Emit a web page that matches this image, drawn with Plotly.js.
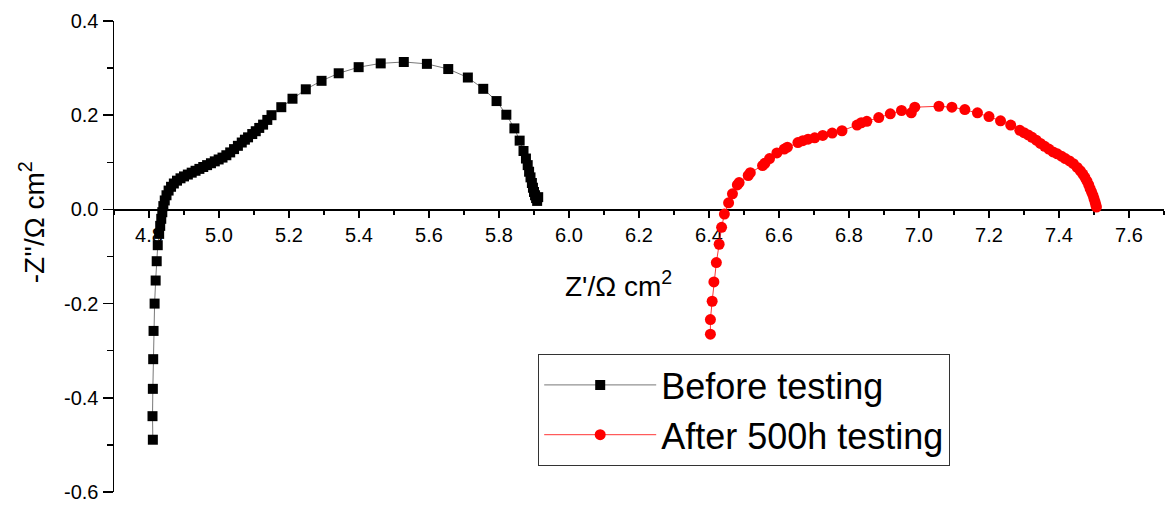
<!DOCTYPE html>
<html>
<head>
<meta charset="utf-8">
<script src="https://cdn.plot.ly/plotly-3.0.1.min.js"></script>
<style>html,body{margin:0;padding:0;background:#fff;}#chart{width:1172px;height:512px;}</style>
</head>
<body>
<div id="chart"></div>
<script>
const seriesNames = ["Before testing", "After 500h testing"];

const xBefore = [4.811,4.810,4.811,4.812,4.813,4.816,4.819,4.822,4.825,4.829,4.832,4.835,4.838,4.841,4.845,4.850,4.856,4.863,4.871,4.880,4.890,4.900,4.911,4.922,4.933,4.944,4.955,4.966,4.977,4.988,4.999,5.010,5.021,5.032,5.043,5.054,5.065,5.074,5.083,5.095,5.105,5.115,5.126,5.138,5.150,5.178,5.210,5.248,5.293,5.342,5.399,5.462,5.528,5.594,5.655,5.711,5.755,5.793,5.821,5.844,5.859,5.870,5.877,5.882,5.886,5.890,5.894,5.897,5.900,5.903,5.906,5.909,5.912];
const yBefore = [-0.489,-0.439,-0.381,-0.318,-0.258,-0.200,-0.151,-0.110,-0.076,-0.052,-0.035,-0.020,-0.006,0.007,0.019,0.030,0.040,0.048,0.055,0.061,0.066,0.070,0.074,0.078,0.082,0.086,0.090,0.094,0.098,0.102,0.106,0.110,0.115,0.121,0.128,0.135,0.142,0.148,0.153,0.160,0.166,0.173,0.180,0.190,0.200,0.217,0.235,0.255,0.273,0.289,0.302,0.310,0.313,0.309,0.298,0.280,0.256,0.230,0.201,0.172,0.146,0.124,0.108,0.094,0.080,0.068,0.056,0.046,0.037,0.030,0.024,0.018,0.026];

const xAfter = [6.404,6.404,6.409,6.414,6.421,6.429,6.436,6.444,6.456,6.467,6.481,6.486,6.512,6.518,6.553,6.560,6.573,6.594,6.615,6.624,6.654,6.668,6.683,6.702,6.725,6.752,6.780,6.823,6.835,6.851,6.885,6.918,6.950,6.978,6.988,7.057,7.094,7.131,7.167,7.200,7.233,7.262,7.288,7.300,7.312,7.323,7.335,7.347,7.359,7.371,7.383,7.395,7.407,7.418,7.430,7.441,7.452,7.461,7.468,7.474,7.480,7.485,7.489,7.493,7.497,7.500,7.503,7.505,7.507];
const yAfter = [-0.265,-0.234,-0.195,-0.154,-0.113,-0.074,-0.038,-0.010,0.014,0.033,0.052,0.057,0.072,0.078,0.093,0.098,0.108,0.120,0.128,0.132,0.142,0.146,0.149,0.152,0.157,0.162,0.167,0.179,0.184,0.187,0.195,0.203,0.210,0.205,0.217,0.219,0.217,0.212,0.205,0.197,0.188,0.179,0.168,0.163,0.158,0.153,0.147,0.140,0.134,0.128,0.122,0.118,0.113,0.108,0.103,0.097,0.089,0.082,0.075,0.068,0.060,0.052,0.044,0.037,0.030,0.023,0.016,0.010,0.005];

const yTickVals = [-0.6, -0.4, -0.2, 0.0, 0.2, 0.4];
const yTickText = ["-0.6", "-0.4", "-0.2", "0.0", "0.2", "0.4"];

const xTitle = "Z'/Ω cm<sup>2</sup>";
const yTitle = "-Z''/Ω cm<sup>2</sup>";

const FONT = "Arial, 'Liberation Sans', sans-serif";

const traces = [
  {
    x: xBefore, y: yBefore, name: seriesNames[0], type: 'scatter', mode: 'lines+markers',
    line: {color: '#555555', width: 0.8},
    marker: {symbol: 'square', size: 10, color: '#000000'},
    cliponaxis: false
  },
  {
    x: xAfter, y: yAfter, name: seriesNames[1], type: 'scatter', mode: 'lines+markers',
    line: {color: '#ff0000', width: 0.8},
    marker: {symbol: 'circle', size: 11, color: '#ff0000'},
    cliponaxis: false
  }
];

const layout = {
  width: 1172, height: 512,
  margin: {l: 114, r: 8, t: 21, b: 20},
  paper_bgcolor: '#ffffff', plot_bgcolor: '#ffffff',
  font: {family: FONT, color: '#000000', size: 20},
  showlegend: true,
  xaxis: {
    range: [4.7, 7.7], dtick: 0.2, tick0: 0, tickformat: '.1f',
    anchor: 'free', position: 0.6,
    showgrid: false, zeroline: false,
    showline: true, linecolor: '#000', linewidth: 1.5,
    ticks: 'outside', ticklen: 7, tickwidth: 1.5, tickcolor: '#000',
    minor: {dtick: 0.1, ticks: 'outside', ticklen: 4, tickwidth: 1.5, tickcolor: '#000', showgrid: false},
    tickfont: {family: FONT, size: 20, color: '#000'},
    layer: 'below traces'
  },
  yaxis: {
    range: [-0.6, 0.4], tickmode: 'array', tickvals: yTickVals, ticktext: yTickText,
    showgrid: false, zeroline: false,
    showline: true, linecolor: '#000', linewidth: 1.5,
    ticks: 'outside', ticklen: 10, tickwidth: 1.5, tickcolor: '#000',
    minor: {tickmode: 'linear', tick0: 0, dtick: 0.1, ticks: 'outside', ticklen: 6, tickwidth: 1.5, tickcolor: '#000', showgrid: false},
    tickfont: {family: FONT, size: 20, color: '#000'},
    layer: 'below traces'
  },
  legend: {
    x: 0.404, y: 0.293, xanchor: 'left', yanchor: 'top',
    bgcolor: '#ffffff', bordercolor: '#333333', borderwidth: 1,
    font: {family: FONT, size: 36, color: '#000'},
    itemwidth: 112, tracegroupgap: 0
  },
  annotations: [
    {text: xTitle, xref: 'paper', yref: 'paper', x: 0.48, y: 0.4416, xanchor: 'center', yanchor: 'middle',
     showarrow: false, font: {family: FONT, size: 28, color: '#000'}},
    {text: yTitle, xref: 'paper', yref: 'paper', x: -0.078, y: 0.573, xanchor: 'center', yanchor: 'middle',
     textangle: -90, showarrow: false, font: {family: FONT, size: 28, color: '#000'}}
  ]
};

Plotly.newPlot('chart', traces, layout, {displayModeBar: false, staticPlot: true});
</script>
</body>
</html>
